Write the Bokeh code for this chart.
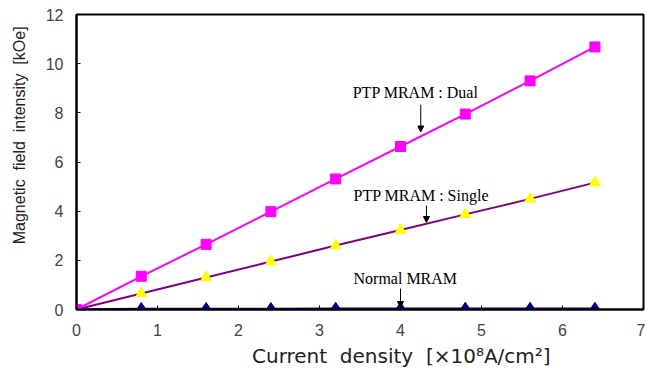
from bokeh.plotting import figure
from bokeh.models import Range1d, Arrow, NormalHead, FixedTicker, Label
from bokeh.embed import file_html
from bokeh.resources import INLINE

current = [0, 0.8, 1.6, 2.4, 3.2, 4.0, 4.8, 5.6, 6.4]
dual = [0, 1.35, 2.65, 3.98, 5.31, 6.63, 7.95, 9.3, 10.68]
single = [0, 0.65, 1.3, 1.95, 2.6, 3.23, 3.87, 4.5, 5.16]
normal = [0, 0.02, 0.02, 0.02, 0.03, 0.03, 0.03, 0.03, 0.03]

x_ticks = [0, 1, 2, 3, 4, 5, 6, 7]
y_ticks = [0, 2, 4, 6, 8, 10, 12]

annotations = [
    ("PTP MRAM : Dual", 3.41, 8.82, 4.25, 8.33, 7.22),
    ("PTP MRAM : Single", 3.42, 4.63, 4.32, 4.23, 3.54),
    ("Normal MRAM", 3.42, 1.26, 4.0, 0.85, 0.08),
]

NB = "\u00a0"
x_title = NB * 13 + "Current" + NB * 2 + "density" + NB * 2 + "[×10⁸A/cm²]"
y_title = NB * 12 + "Magnetic" + NB * 2 + "field" + NB * 2 + "intensity" + NB * 2 + "[kOe]"

p = figure(width=645, height=372, output_backend="svg", toolbar_location=None,
           x_range=Range1d(0, 7), y_range=Range1d(0, 12),
           min_border_left=76, min_border_right=2, min_border_top=14, min_border_bottom=63)

p.xgrid.visible = False
p.ygrid.visible = False
p.outline_line_color = "black"
p.outline_line_width = 2
p.background_fill_color = "white"
p.border_fill_color = "white"

for ax in (p.xaxis[0], p.yaxis[0]):
    ax.axis_line_color = "black"
    ax.axis_line_width = 2
    ax.major_tick_in = 4
    ax.major_tick_out = 0
    ax.minor_tick_line_color = None
    ax.major_tick_line_color = "black"
    ax.major_label_text_font = "Liberation Sans"
    ax.major_label_text_font_size = "16px"
    ax.major_label_text_color = "#444444"
    ax.axis_label_text_font_style = "normal"
    ax.axis_label_text_color = "#222222"

p.xaxis[0].ticker = FixedTicker(ticks=x_ticks)
p.yaxis[0].ticker = FixedTicker(ticks=y_ticks)
p.xaxis[0].major_label_standoff = 14
p.yaxis[0].major_label_standoff = 13
p.xaxis[0].axis_label = x_title
p.xaxis[0].axis_label_text_font = "DejaVu Sans"
p.xaxis[0].axis_label_text_font_size = "20px"
p.xaxis[0].axis_label_standoff = 5
p.yaxis[0].axis_label = y_title
p.yaxis[0].axis_label_text_font = "Liberation Sans"
p.yaxis[0].axis_label_text_font_size = "16px"
p.yaxis[0].axis_label_standoff = 15

p.line(current, normal, line_color="#000080", line_width=2.5)
p.scatter(current, normal, marker="diamond", size=13, fill_color="#000080", line_color="#000080")

p.line(current, single, line_color="#800080", line_width=2)
p.scatter(current, single, marker="triangle", size=11, fill_color="#FFFF00", line_color="#FFFF00")

p.line(current, dual, line_color="#FF00FF", line_width=2)
p.scatter(current, dual, marker="square", size=10, fill_color="#FF00FF", line_color="#FF00FF")

for txt, tx, ty, ax_, y0, y1 in annotations:
    p.add_layout(Label(x=tx, y=ty, text=txt, text_font="Liberation Serif",
                       text_font_size="16px", text_color="black",
                       text_baseline="middle", text_align="left"))
    p.add_layout(Arrow(x_start=ax_, y_start=y0, x_end=ax_, y_end=y1,
                       line_color="black", line_width=1,
                       end=NormalHead(size=6, fill_color="black", line_color="black")))

open("out.html", "w").write(file_html(p, INLINE))
